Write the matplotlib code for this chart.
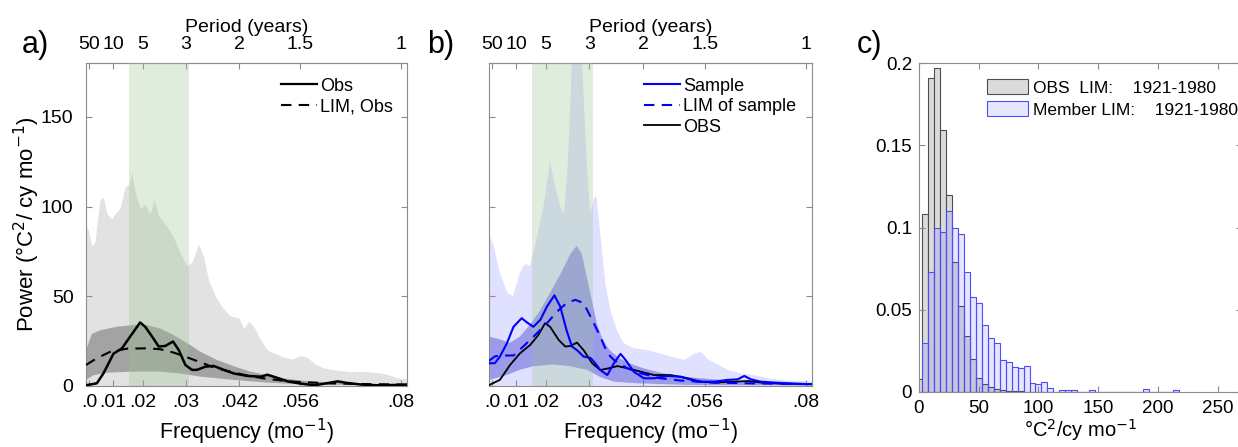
import numpy as np
import matplotlib.pyplot as plt
from matplotlib.lines import Line2D
from matplotlib.patches import Patch

plt.rcParams['font.family'] = ['Liberation Sans', 'DejaVu Sans']

# frequency ticks (cycles per month) shared by panels a and b
freq_ticks = [0.0028, 0.009, 1 / 60, 1 / 36, 1 / 24, 0.0574, 1 / 12]
freq_labels = ['.0', '.01', '.02', '.03', '.042', '.056', '.08']
period_labels = ['50', '10', '5', '3', '2', '1.5', '1']
band_lo, band_hi = 0.013, 0.0286   # shaded period band

# ---- panel a ----
a_env_f = [0.0020, 0.0026, 0.0035, 0.0043, 0.0056, 0.0065, 0.0074, 0.0087, 0.0095, 0.0108,
           0.0121, 0.0130, 0.0138, 0.0147, 0.0160, 0.0173, 0.0186, 0.0196, 0.0208, 0.0229,
           0.0246, 0.0264, 0.0281, 0.0294, 0.0311, 0.0324, 0.0337, 0.0355, 0.0372, 0.0393,
           0.0415, 0.0428, 0.0441, 0.0454, 0.0471, 0.0489, 0.0510, 0.0532, 0.0553, 0.0575,
           0.0592, 0.0614, 0.0636, 0.0661, 0.0705, 0.0748, 0.0791, 0.0834, 0.0850]
a_env_p = [89, 87, 78, 80, 104, 105, 96, 93, 96, 99,
           111, 112, 119, 108, 99, 101, 96, 104, 95, 89,
           83, 74, 67, 69, 79, 72, 59, 50, 44, 39,
           38, 32, 36, 33, 26, 20, 18, 16, 15, 17,
           16, 12, 10, 9, 8, 8, 7, 4, 4]

a_lim_hi_f = [0.002, 0.0035, 0.0056, 0.0100, 0.0143, 0.0177, 0.0212, 0.0246, 0.0281, 0.0316,
              0.0359, 0.0402, 0.0445, 0.0489, 0.0532, 0.0575, 0.0661, 0.0748, 0.0850]
a_lim_hi_p = [20, 29, 31, 33, 34, 34, 32, 28.5, 24, 19,
              14.5, 11, 8, 6, 4.3, 3, 1.9, 1.1, 0.7]
a_lim_lo_f = [0.002, 0.0039, 0.0074, 0.0143, 0.0212, 0.0264, 0.0316, 0.0402, 0.0489, 0.0575, 0.0850]
a_lim_lo_p = [3.4, 6, 7.4, 8, 8, 7, 5.2, 3.4, 1.9, 0.9, 0.4]

a_obs_f = [0.0022, 0.0048, 0.0065, 0.0091, 0.0113, 0.0134, 0.0160, 0.0173, 0.0191, 0.0208,
           0.0225, 0.0245, 0.0260, 0.0277, 0.0294, 0.0307, 0.0329, 0.0350, 0.0376, 0.0402,
           0.0437, 0.0472, 0.0489, 0.0511, 0.0541, 0.0576, 0.0610, 0.0636, 0.0671, 0.0692,
           0.0731, 0.0775, 0.0850]
a_obs_p = [0.5, 1.5, 7, 18, 21, 27.5, 35.4, 33, 27.5, 22,
           22.3, 24.8, 20, 11.7, 9, 9, 10.8, 11.2, 9, 7,
           5.6, 5.2, 6.3, 4.8, 2.6, 1.3, 0.4, 1.3, 2.6, 1.8,
           0.8, 0.4, 0.7]

a_lim_f = [0.002, 0.0048, 0.0082, 0.0126, 0.0178, 0.0212, 0.0247, 0.0281, 0.0316, 0.0350,
           0.0385, 0.0437, 0.0489, 0.0558, 0.0645, 0.0731, 0.0850]
a_lim_p = [11.7, 15.5, 19, 20.8, 21, 20.5, 18.6, 16, 13.2, 10.4,
           8.4, 5.8, 3.9, 2.4, 1.5, 1.1, 0.8]

# ---- panel b ----
b_env_f = [0.002, 0.0032, 0.0048, 0.0067, 0.0082, 0.0099, 0.0112, 0.0125, 0.0138, 0.0160,
           0.0177, 0.0190, 0.0203, 0.0213, 0.0223, 0.0233, 0.0246, 0.0259, 0.0272, 0.0280,
           0.0289, 0.0296, 0.0306, 0.0319, 0.0332, 0.0349, 0.0366, 0.0392, 0.0427, 0.0461,
           0.0496, 0.0522, 0.0547, 0.0565, 0.0582, 0.0599, 0.0634, 0.0668, 0.0703, 0.0746,
           0.0789, 0.0850]
b_env_p = [85, 78, 63, 52, 50, 63, 68, 67, 78, 100,
           125, 111, 100, 96, 126, 180, 250, 180, 122, 96,
           104, 106, 85, 57, 42, 31, 24, 21, 20, 18,
           16, 14.5, 18, 19, 15, 13, 9, 7, 6, 4,
           3, 2.5]

b_mid_hi_f = [0.002, 0.0048, 0.0073, 0.0099, 0.0125, 0.0151, 0.0177, 0.0205, 0.0230, 0.0245,
              0.0258, 0.0271, 0.0284, 0.0297, 0.0312, 0.0330, 0.0355, 0.0380, 0.0415, 0.0450,
              0.0490, 0.0530, 0.0616, 0.0703, 0.0850]
b_mid_hi_p = [27.5, 26, 24, 27.5, 34, 42, 52, 63, 74, 78,
              74, 61, 48, 35, 26, 20, 15.5, 12.7, 10, 8,
              6, 5, 3.4, 2.4, 1.5]
b_mid_lo_f = [0.002, 0.0065, 0.0099, 0.0134, 0.0185, 0.0229, 0.0272, 0.0306, 0.0341, 0.0401, 0.0530, 0.0850]
b_mid_lo_p = [3.4, 6, 9, 11, 12, 11, 9, 5, 2.4, 1.5, 0.6, 0.3]

b_sample_f = [0.002, 0.0035, 0.0048, 0.0066, 0.0083, 0.0104, 0.0117, 0.0134, 0.0152, 0.0169,
              0.0188, 0.0203, 0.0219, 0.0233, 0.0246, 0.0263, 0.0281, 0.0293, 0.0306, 0.0324,
              0.0341, 0.0358, 0.0371, 0.0392, 0.0418, 0.0444, 0.0478, 0.0513, 0.0556, 0.0599,
              0.0633, 0.0659, 0.0676, 0.0693, 0.0719, 0.0754, 0.0788, 0.0850]
b_sample_p = [12.7, 12.7, 16.4, 23.8, 33, 37.8, 35.5, 33, 36.9, 44.3,
              50.5, 44.3, 31.3, 22, 20, 16.4, 15.6, 12.7, 8.9, 6.1,
              12.7, 17.9, 14.5, 8, 4.3, 4.3, 5.6, 5.2, 2.4, 2.4,
              3.4, 3.7, 5.6, 3.7, 2.4, 1.9, 1.5, 1]

b_limsample_f = [0.002, 0.0035, 0.0048, 0.0083, 0.0126, 0.0169, 0.0195, 0.0221, 0.0242, 0.0263,
                 0.0285, 0.0306, 0.0324, 0.0341, 0.0375, 0.0410, 0.0461, 0.0513, 0.0599, 0.0685, 0.0850]
b_limsample_p = [14, 16.5, 17, 17, 25.7, 35, 41.5, 46.5, 48, 46.2,
                 36.9, 27.5, 18.3, 14.5, 9.9, 7.1, 4.3, 3, 1.9, 1.5, 1]

b_obs_f = [0.002, 0.0048, 0.0074, 0.0100, 0.0126, 0.0147, 0.0164, 0.0177, 0.0199, 0.0216,
           0.0229, 0.0246, 0.0263, 0.0285, 0.0306, 0.0328, 0.0350, 0.0375, 0.0410, 0.0444,
           0.0487, 0.0530, 0.0565, 0.0599, 0.0651, 0.0685, 0.0719, 0.0771, 0.0850]
b_obs_p = [0.5, 3.4, 11.7, 18.3, 22.9, 28.5, 35, 33, 25.7, 22,
           22.3, 24.2, 20, 12.7, 8.9, 9.9, 11.1, 9.9, 8, 6.1,
           6.1, 4.3, 2.4, 1.9, 2.4, 2.8, 1.9, 1.3, 1]

# ---- panel c : histograms ----
bin_centres = np.arange(0, 220, 5)
obs_frac = [0.008, 0.108, 0.191, 0.197, 0.159, 0.120, 0.079, 0.052, 0.034, 0.020,
            0.0088, 0.005, 0.0028, 0.0016, 0.001, 0.0008, 0.0005, 0.0005, 0.0003, 0.0003,
            0.0002, 0, 0, 0, 0, 0, 0, 0, 0, 0,
            0, 0, 0, 0, 0, 0, 0, 0, 0, 0,
            0, 0, 0, 0]
member_frac = [0, 0.030, 0.073, 0.100, 0.097, 0.110, 0.100, 0.096, 0.073, 0.058,
               0.054, 0.041, 0.033, 0.030, 0.0195, 0.018, 0.015, 0.0146, 0.0157, 0.0056,
               0.005, 0.0063, 0.0022, 0, 0.0014, 0.001, 0.001, 0, 0, 0.001,
               0, 0, 0, 0, 0, 0, 0, 0, 0.0016, 0,
               0, 0, 0, 0.001]

W, H = 1238, 447
fig = plt.figure(figsize=(W / 100, H / 100), dpi=100)
axa = fig.add_axes([86 / W, 1 - 386 / H, 321 / W, 323 / H])
axb = fig.add_axes([489 / W, 1 - 386 / H, 323 / W, 323 / H])
axc = fig.add_axes([919 / W, 1 - 392 / H, 322.6 / W, 329 / H])

spine_col = '0.55'
green = (155 / 255, 198 / 255, 145 / 255)


def style_spectrum(ax, ylabels):
    ax.set_xlim(0.002, 0.085)
    ax.set_ylim(0, 180)
    ax.set_xticks(freq_ticks, labels=freq_labels)
    ax.set_yticks([0, 50, 100, 150])
    if not ylabels:
        ax.set_yticklabels([])
    ax.tick_params(axis='x', direction='in', length=4, color=spine_col, labelsize=14, pad=6)
    ax.tick_params(axis='y', direction='in', length=4, color=spine_col, labelsize=14,
                   pad=9, right=True)
    for s in ax.spines.values():
        s.set_color(spine_col)
        s.set_linewidth(0.8)
    top = ax.secondary_xaxis('top')
    top.set_xticks(freq_ticks, labels=period_labels)
    top.tick_params(direction='in', length=4, color=spine_col, labelsize=14, pad=7)
    top.spines['top'].set_color(spine_col)
    top.set_xlabel('Period (years)', fontsize=14, labelpad=3)
    ax.set_xlabel('Frequency (mo$^{-1}$)', fontsize=15.5, labelpad=4)


# panel a
axa.fill_between(a_env_f, 0, a_env_p, color='#e2e2e2', lw=0, zorder=1)
axa.fill(np.r_[a_lim_hi_f, a_lim_lo_f[::-1]], np.r_[a_lim_hi_p, a_lim_lo_p[::-1]],
         color='#a3a3a3', lw=0, zorder=2)
axa.axvspan(band_lo, band_hi, color=green, alpha=0.3, lw=0, zorder=3)
axa.plot(a_obs_f, a_obs_p, color='k', lw=1.8, zorder=5)
axa.plot(a_lim_f, a_lim_p, color='k', lw=1.5, ls=(0, (5, 3.5)), zorder=4)
style_spectrum(axa, True)
axa.set_ylabel('Power (°C$^2$/ cy mo$^{-1}$)', fontsize=16, labelpad=-1)
leg_a = [Line2D([], [], color='k', lw=1.6), Line2D([], [], color='k', lw=1.5, ls=(0, (5, 3.5)))]
axa.legend(leg_a, ['Obs', 'LIM, Obs'], loc='upper right', bbox_to_anchor=(0.955, 0.955),
           frameon=False, fontsize=13, handlelength=2.0, handletextpad=0.15,
           labelspacing=0.2, borderpad=0, borderaxespad=0)

# panel b
axb.fill_between(b_env_f, 0, b_env_p, color=(0.2, 0.2, 1.0), alpha=0.15, lw=0, zorder=1)
axb.fill(np.r_[b_mid_hi_f, b_mid_lo_f[::-1]], np.r_[b_mid_hi_p, b_mid_lo_p[::-1]],
         color=(0.24, 0.24, 0.8), alpha=0.42, lw=0, zorder=2)
axb.axvspan(band_lo, band_hi, color=green, alpha=0.3, lw=0, zorder=3)
axb.plot(b_obs_f, b_obs_p, color='k', lw=1.3, zorder=4)
axb.plot(b_limsample_f, b_limsample_p, color=(0, 0, 1), lw=1.5, ls=(0, (5, 3.5)), zorder=5)
axb.plot(b_sample_f, b_sample_p, color=(0, 0, 1), lw=1.5, zorder=6)
style_spectrum(axb, False)
leg_b = [Line2D([], [], color='b', lw=1.5), Line2D([], [], color='b', lw=1.5, ls=(0, (5, 3.5))),
         Line2D([], [], color='k', lw=1.3)]
axb.legend(leg_b, ['Sample', 'LIM of sample', 'OBS'], loc='upper right',
           bbox_to_anchor=(0.95, 0.955), frameon=False, fontsize=13, handlelength=2.0,
           handletextpad=0.15, labelspacing=0.2, borderpad=0, borderaxespad=0)

# panel c
axc.bar(bin_centres, obs_frac, width=5, color=(0.86, 0.86, 0.86), edgecolor=(0.3, 0.3, 0.3),
        lw=0.8, zorder=1)
axc.bar(bin_centres, member_frac, width=5, color=(0.25, 0.25, 1.0, 0.13),
        edgecolor=(0.3, 0.3, 1.0), lw=0.8, zorder=2)
axc.set_xlim(0, 270)
axc.set_ylim(0, 0.2)
axc.set_xticks([0, 50, 100, 150, 200, 250])
axc.set_yticks([0, 0.05, 0.1, 0.15, 0.2], labels=['0', '0.05', '0.1', '0.15', '0.2'])
axc.tick_params(direction='in', length=4, color=spine_col, labelsize=13.5, top=True, right=True)
axc.tick_params(axis='x', pad=6)
axc.tick_params(axis='y', pad=5)
for s in axc.spines.values():
    s.set_color(spine_col)
    s.set_linewidth(0.8)
axc.set_xlabel('°C$^2$/cy mo$^{-1}$', fontsize=14.5, labelpad=0)
leg_c = [Patch(facecolor=(0.86, 0.86, 0.86), edgecolor=(0.3, 0.3, 0.3), lw=0.8),
         Patch(facecolor=(0.25, 0.25, 1.0, 0.13), edgecolor=(0.3, 0.3, 1.0), lw=0.8)]
axc.legend(leg_c, ['OBS  LIM:    1921-1980', 'Member LIM:    1921-1980'], loc='upper left',
           bbox_to_anchor=(0.211, 0.95), frameon=False, fontsize=12.5, handlelength=2.35,
           handleheight=0.95, handletextpad=0.3, labelspacing=0.3, borderpad=0,
           borderaxespad=0)

# panel letters
fig.text(35 / W, 1 - 45 / H, 'a)', fontsize=22, ha='center', va='center')
fig.text(441 / W, 1 - 45 / H, 'b)', fontsize=22, ha='center', va='center')
fig.text(869 / W, 1 - 45 / H, 'c)', fontsize=22, ha='center', va='center')

fig.savefig('out.png', dpi=100)
